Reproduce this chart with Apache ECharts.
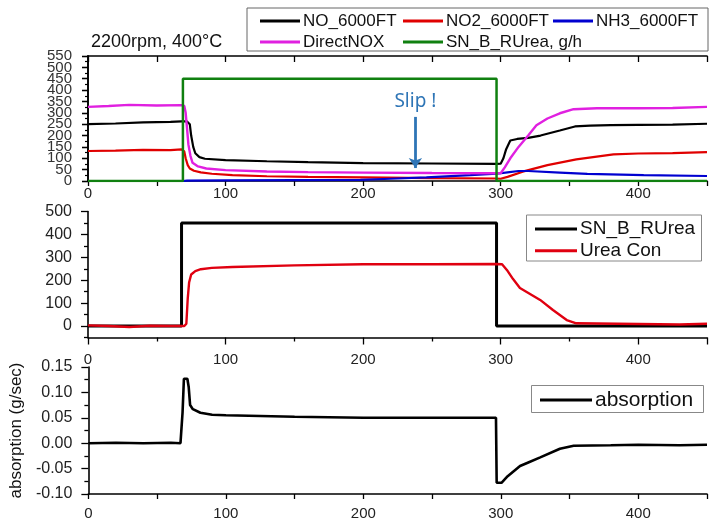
<!DOCTYPE html>
<html><head><meta charset="utf-8">
<script src="https://cdn.jsdelivr.net/npm/echarts@6/dist/echarts.min.js"></script>
<style>html,body{margin:0;padding:0;background:#fff}#c{width:721px;height:528px}</style>
</head><body><div id="c"></div>
<script>
// ---- data (time in s) ----
const NO_6000FT = [[0,250],[20,253],[40,258],[60,260],[68,262],[72,262],[74,250],[75,200],[76.5,150],[78,122],[81,105],[85,98],[100,92],[130,87],[160,83],[200,79],[250,77],[297,75],[300,76],[302,100],[304,140],[307,178],[312,185],[320,190],[329,200],[343,222],[354,240],[365,244],[380,246],[400,247],[425,248],[450,252]];
const NO2_6000FT = [[0,132],[20,134],[40,137],[60,136],[68,139],[70,130],[71,100],[72.5,70],[74,55],[77,45],[82,38],[90,32],[105,26],[130,21],[160,18],[200,16],[250,13],[297,11],[300,10],[305,18],[316,41],[334,70],[355,95],[382,117],[400,121],[425,123],[450,127]];
const NH3_6000FT = [[0,0],[69,0],[72,2],[100,3],[150,4],[198,5],[220,10],[246,16],[278,26],[297,32],[305,38],[313,44],[320,44],[343,37],[363,31],[404,26],[450,22]];
const DirectNOX = [[0,326],[15,330],[30,335],[50,332],[68,334],[70,330],[71,300],[72,230],[73,160],[74.5,110],[76,80],[80,64],[86,55],[100,48],[130,42],[160,39],[200,37],[250,35],[297,34],[300,34],[303,60],[307,100],[313,150],[320,200],[326,245],[334,275],[343,298],[353,316],[370,320],[400,320],[425,321],[450,326]];
const SN_B_RUrea_gh = [[0,0],[69,0],[69,450],[297,450],[297,0],[450,0]];

const SN_B_RUrea = [[0,0],[68,0],[68,450],[297,450],[297,0],[450,0]];
const UreaCon = [[0,3],[15,0],[30,-4],[45,1],[60,0],[70,0],[71.5,10],[72.5,120],[73.5,190],[75,225],[78,240],[82,248],[90,254],[105,258],[150,265],[200,270],[250,270],[297,271],[301,270],[304.5,245],[309,205],[314,166],[318.6,150],[328.7,114],[338,70],[348,26],[355,12],[370,11],[400,9],[430,7],[450,10]];

const absorption = [[0,0],[20,0.001],[40,0],[60,0.001],[67,0],[68.5,0.06],[69.5,0.127],[72,0.127],[73,0.11],[74,0.075],[76,0.067],[81.5,0.06],[90,0.056],[100,0.055],[150,0.052],[200,0.05],[250,0.05],[296.5,0.05],[297,-0.078],[300.5,-0.078],[305,-0.065],[314,-0.045],[320,-0.038],[328.7,-0.028],[343,-0.011],[353,-0.005],[380,-0.004],[400,-0.003],[430,-0.004],[450,-0.003]];

const topTicksEven = [0,100,200,300,400,500];
const topTicksOdd = [50,150,250,350,450,550];
const midTicks = [0,100,200,300,400,500];
const midMinorTicks = [-50,50,150,250,350,450];
const slipPoint = [238, 282, 57];

const FONT = "'Liberation Sans', Arial, sans-serif";
const BLK = '#000';

function xAx(grid, opts) {
  return Object.assign({
    type: 'value', gridIndex: grid, min: 0, max: 450, interval: 100,
    axisLine: {show: true, onZero: false, lineStyle: {color: BLK, width: 1.6}},
    axisTick: {show: true, inside: false, length: 5, lineStyle: {color: BLK, width: 1.3}},
    minorTick: {show: true, splitNumber: 2, length: 5, lineStyle: {color: BLK, width: 1.3}},
    axisLabel: {color: '#222', fontSize: 15, fontFamily: FONT, showMaxLabel: false},
    splitLine: {show: false}
  }, opts);
}

const chart = echarts.init(document.getElementById('c'), null, {renderer: 'canvas'});
const option = {
  animation: false,
  backgroundColor: '#fff',
  title: {text: '2200rpm, 400°C', left: 86, top: 28, textStyle: {fontSize: 18, fontWeight: 'normal', color: '#111', fontFamily: FONT}},
  grid: [
    {left: 88, top: 56, width: 619, height: 125},
    {left: 88, top: 211.5, width: 619, height: 126},
    {left: 88, top: 367, width: 619, height: 127}
  ],
  xAxis: [
    xAx(0, {position: 'bottom', axisLabel: {color: '#222', fontSize: 15, fontFamily: FONT, margin: 5, showMaxLabel: false}}),
    xAx(0, {position: 'top', axisTick: {show: true, inside: true, length: 6, lineStyle: {color: BLK, width: 1.3}}, minorTick: {show: true, splitNumber: 2, length: 6, lineStyle: {color: BLK, width: 1.3}}, axisLabel: {show: false}}),
    xAx(1, {position: 'bottom', axisTick: {show: true, length: 7, lineStyle: {color: BLK, width: 1.3}}, minorTick: {show: true, splitNumber: 2, length: 4, lineStyle: {color: BLK, width: 1.3}}, axisLabel: {color: '#222', fontSize: 15, fontFamily: FONT, margin: 15, showMaxLabel: false}}),
    xAx(2, {position: 'bottom', axisLabel: {color: '#222', fontSize: 15, fontFamily: FONT, margin: 12, showMaxLabel: false}})
  ],
  yAxis: [
    {type: 'value', gridIndex: 0, min: 0, max: 550, interval: 50, position: 'left',
     axisLine: {show: true, lineStyle: {color: BLK, width: 1.6}},
     axisTick: {show: true, length: 6, lineStyle: {color: BLK, width: 1.3}},
     minorTick: {show: true, splitNumber: 2, length: 3, lineStyle: {color: BLK, width: 1.1}},
     axisLabel: {color: '#333', fontSize: 15, fontFamily: FONT, margin: 16, customValues: topTicksEven},
     splitLine: {show: false}},
    {type: 'value', gridIndex: 0, min: 0, max: 550, interval: 50, position: 'right',
     axisLine: {show: true, lineStyle: {color: BLK, width: 1.6}},
     axisTick: {show: true, inside: true, length: 6, lineStyle: {color: BLK, width: 1.3}},
     minorTick: {show: true, splitNumber: 2, length: 3, lineStyle: {color: BLK, width: 1.1}},
     axisLabel: {show: false}, splitLine: {show: false}},
    {type: 'value', gridIndex: 1, min: -50, max: 500, interval: 50, position: 'left',
     axisLine: {show: true, onZero: false, lineStyle: {color: BLK, width: 1.6}},
     axisTick: {show: true, length: 7, customValues: midTicks, lineStyle: {color: BLK, width: 1.3}},
     axisLabel: {color: '#222', fontSize: 16, fontFamily: FONT, margin: 16, customValues: midTicks},
     splitLine: {show: false}},
    {type: 'value', gridIndex: 1, min: -50, max: 500, interval: 50, position: 'left',
     axisLine: {show: false},
     axisTick: {show: true, length: 4, customValues: midMinorTicks, lineStyle: {color: BLK, width: 1.3}},
     axisLabel: {show: false}, splitLine: {show: false}},
    {type: 'value', gridIndex: 2, min: -0.1, max: 0.15, interval: 0.05, position: 'left',
     axisLine: {show: true, onZero: false, lineStyle: {color: BLK, width: 1.6}},
     axisTick: {show: true, length: 7, lineStyle: {color: BLK, width: 1.3}},
     minorTick: {show: true, splitNumber: 2, length: 4, lineStyle: {color: BLK, width: 1.3}},
     axisLabel: {color: '#222', fontSize: 16, fontFamily: FONT, margin: 16, formatter: v => v.toFixed(2)},
     name: 'absorption (g/sec)', nameLocation: 'middle', nameGap: 62, nameRotate: 90,
     nameTextStyle: {fontSize: 17, color: '#111', fontFamily: FONT},
     splitLine: {show: false}},
    {type: 'value', gridIndex: 0, min: 0, max: 550, interval: 50, position: 'left',
     axisLine: {show: false}, axisTick: {show: false},
     axisLabel: {color: '#333', fontSize: 15, fontFamily: FONT, margin: 16, customValues: topTicksOdd},
     splitLine: {show: false}}
  ],
  legend: [
    {data: ['NO_6000FT', 'DirectNOX'], orient: 'vertical', left: 260, top: 12.5, padding: 0, itemGap: 4,
     itemWidth: 40, itemHeight: 3, icon: 'rect', textStyle: {fontSize: 17, lineHeight: 16, color: '#111', fontFamily: FONT, padding: [0,0,0,-2]}},
    {data: ['NO2_6000FT', 'SN_B_RUrea, g/h'], orient: 'vertical', left: 403, top: 12.5, padding: 0, itemGap: 4,
     itemWidth: 40, itemHeight: 3, icon: 'rect', textStyle: {fontSize: 17, lineHeight: 16, color: '#111', fontFamily: FONT, padding: [0,0,0,-2]}},
    {data: ['NH3_6000FT'], orient: 'vertical', left: 553, top: 12.5, padding: 0, itemGap: 4,
     itemWidth: 40, itemHeight: 3, icon: 'rect', textStyle: {fontSize: 17, lineHeight: 16, color: '#111', fontFamily: FONT, padding: [0,0,0,-2]}},
    {data: ['SN_B_RUrea', 'Urea Con'], orient: 'vertical', left: 535, top: 219.5, padding: 0, itemGap: 2.7,
     itemWidth: 42, itemHeight: 3, icon: 'rect', textStyle: {fontSize: 19, lineHeight: 19, color: '#111', fontFamily: FONT, padding: [0,0,0,-2]}},
    {data: ['absorption'], orient: 'vertical', left: 540, top: 389.5, padding: 0,
     itemWidth: 52, itemHeight: 3, icon: 'rect', textStyle: {fontSize: 21, lineHeight: 21, color: '#111', fontFamily: FONT, padding: [0,0,0,-2]}}
  ],
  graphic: [
    {type: 'rect', shape: {x: 247, y: 8, width: 461, height: 43}, style: {fill: 'none', stroke: '#666', lineWidth: 1}, silent: true},
    {type: 'rect', shape: {x: 526.5, y: 215, width: 175, height: 46}, style: {fill: 'none', stroke: '#888', lineWidth: 1}, silent: true},
    {type: 'rect', shape: {x: 531.5, y: 385.5, width: 172, height: 27}, style: {fill: 'none', stroke: '#888', lineWidth: 1}, silent: true}
  ],
  series: [
    {name: 'NO_6000FT', type: 'line', xAxisIndex: 0, yAxisIndex: 0, data: NO_6000FT, showSymbol: false, color: '#000', lineStyle: {width: 2.2}},
    {name: 'NO2_6000FT', type: 'line', xAxisIndex: 0, yAxisIndex: 0, data: NO2_6000FT, showSymbol: false, color: '#e00000', lineStyle: {width: 2.2}},
    {name: 'NH3_6000FT', type: 'line', xAxisIndex: 0, yAxisIndex: 0, data: NH3_6000FT, showSymbol: false, color: '#0000d0', lineStyle: {width: 2.2},
     markLine: {silent: true, symbol: ['none', 'arrow'], symbolSize: 10, animation: false,
       lineStyle: {color: '#2e75b6', width: 2.8, type: 'solid'},
       label: {show: true, position: 'start', formatter: 'Slip !', color: '#2e75b6', fontSize: 19, fontFamily: "'Noto Sans', sans-serif", distance: 6},
       data: [[{coord: [slipPoint[0], slipPoint[1]]}, {coord: [slipPoint[0], slipPoint[2]]}]]}},
    {name: 'DirectNOX', type: 'line', xAxisIndex: 0, yAxisIndex: 0, data: DirectNOX, showSymbol: false, color: '#e020e0', lineStyle: {width: 2.4}},
    {name: 'SN_B_RUrea, g/h', type: 'line', xAxisIndex: 0, yAxisIndex: 0, data: SN_B_RUrea_gh, showSymbol: false, color: '#108010', lineStyle: {width: 2.5}},
    {name: 'SN_B_RUrea', type: 'line', xAxisIndex: 2, yAxisIndex: 2, data: SN_B_RUrea, showSymbol: false, color: '#000', lineStyle: {width: 3}},
    {name: 'Urea Con', type: 'line', xAxisIndex: 2, yAxisIndex: 2, data: UreaCon, showSymbol: false, color: '#e00010', lineStyle: {width: 2.4}},
    {name: 'absorption', type: 'line', xAxisIndex: 3, yAxisIndex: 4, data: absorption, showSymbol: false, color: '#000', lineStyle: {width: 2.6}}
  ]
};
chart.setOption(option);
</script>
</body></html>
